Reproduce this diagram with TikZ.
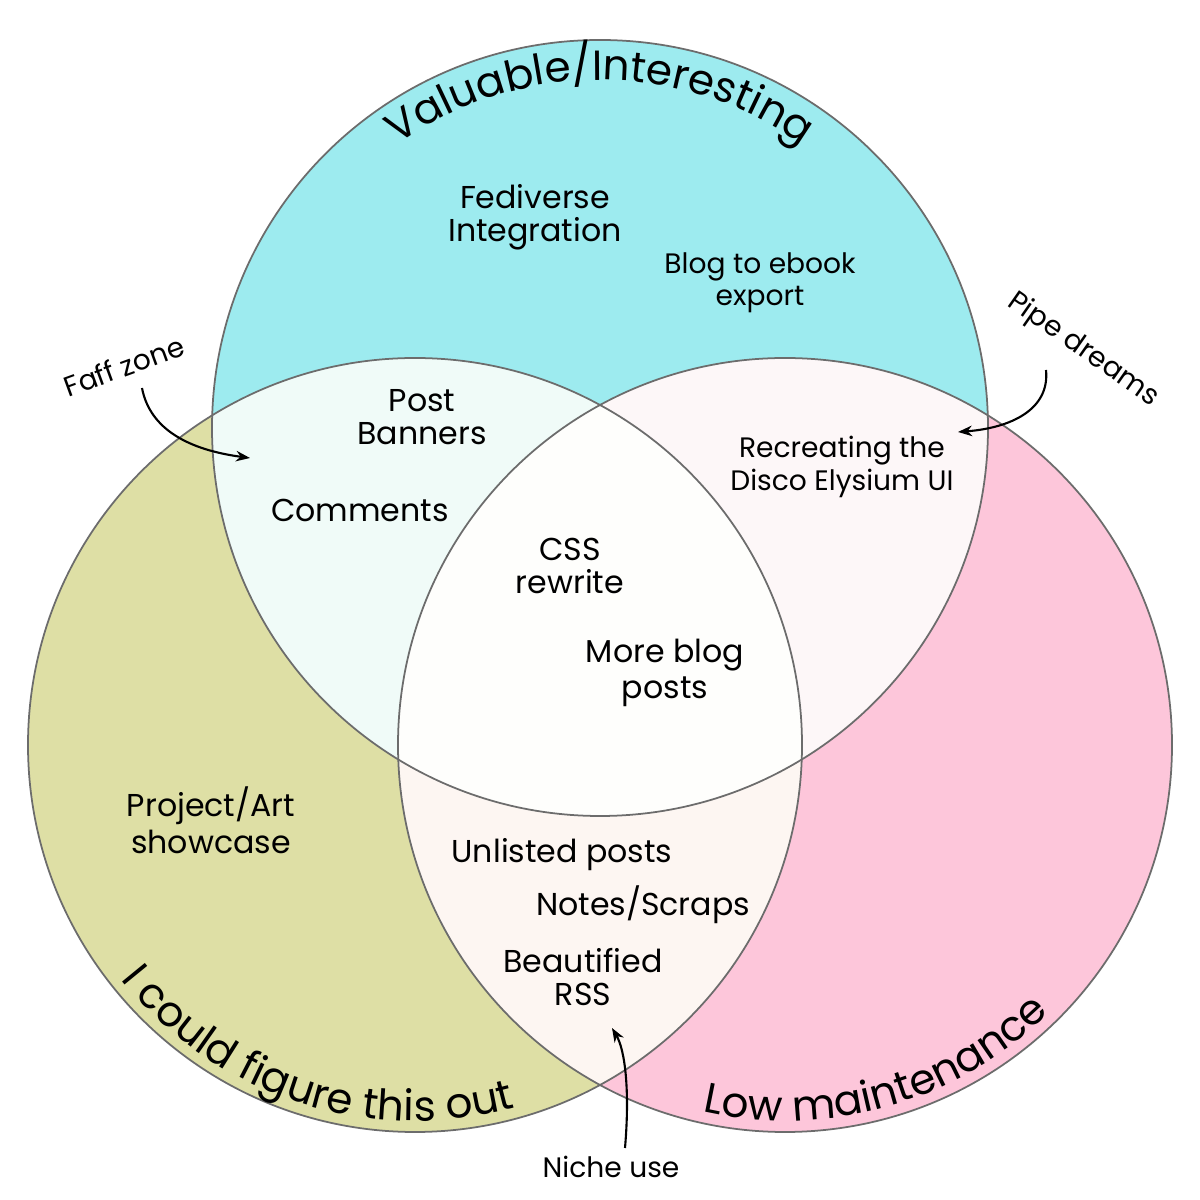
\documentclass[tikz,border=0pt]{standalone}
\usepackage{fontspec}
\setmainfont{Poppins}
\usetikzlibrary{decorations.text,arrows.meta,calc}
\definecolor{cT}{HTML}{9DEBEF}
\definecolor{cL}{HTML}{DEDFA5}
\definecolor{cR}{HTML}{FDC6DA}
\definecolor{cTL}{HTML}{F0FBF8}
\definecolor{cTR}{HTML}{FDF7F8}
\definecolor{cLR}{HTML}{FDF6F2}
\definecolor{cC}{HTML}{FEFEFC}
\begin{document}
\begin{tikzpicture}[x=0.02cm,y=0.02cm,
  lab/.style={align=center,font=\fontsize{18}{17}\selectfont,inner sep=0pt},
  sm/.style={align=center,font=\fontsize{16}{14}\selectfont,inner sep=0pt},
  arr/.style={-{Stealth[length=8pt,width=6pt]},line width=1.2pt},
  edge/.style={draw=gray!85!black,line width=1pt}]
\useasboundingbox (0,0) rectangle (1200,1200);
\fill[white] (0,0) rectangle (1200,1200);
\coordinate (T) at (600,772);
\coordinate (L) at (415,455);
\coordinate (R) at (785,455);
\def\rT{388}\def\rL{387}
\fill[cT] (T) circle (\rT);
\fill[cL] (L) circle (\rL);
\fill[cR] (R) circle (\rL);
\begin{scope}\clip (T) circle (\rT); \fill[cTL] (L) circle (\rL);\end{scope}
\begin{scope}\clip (T) circle (\rT); \fill[cTR] (R) circle (\rL);\end{scope}
\begin{scope}\clip (L) circle (\rL); \fill[cLR] (R) circle (\rL);\end{scope}
\begin{scope}\clip (T) circle (\rT); \clip (L) circle (\rL); \fill[cC] (R) circle (\rL);\end{scope}
\draw[edge] (T) circle (\rT);
\draw[edge] (L) circle (\rL);
\draw[edge] (R) circle (\rL);
% curved titles
\path[decorate,decoration={text along path,text align=center,
  text={|\fontsize{24}{24}\selectfont|Valuable/Interesting}}]
  ($(T)+(132:348)$) arc[start angle=132,end angle=48,radius=348];
\path[decorate,decoration={text along path,text align=center,
  text={|\fontsize{24}{24}\selectfont|I could figure this out}}]
  ($(L)+(212:376)$) arc[start angle=212,end angle=292,radius=376];
\path[decorate,decoration={text along path,text align=center,
  text={|\fontsize{24}{24}\selectfont|Low maintenance}}]
  ($(R)+(252:376)$) arc[start angle=252,end angle=320,radius=376];
% labels
\node[lab] (fed) at (535,983) {Fediverse\\[2pt]Integration};
\node[sm] (blog) at (760,917) {Blog to ebook\\[2pt]export};
\node[lab] (post) at (422,783) {Post\\[2pt]Banners};
\node[lab] (comm) at (360,690) {Comments};
\node[lab] (css) at (570,634) {CSS\\[2pt]rewrite};
\node[lab] (more) at (665,527) {More blog\\[2pt]posts};
\node[sm] (disco) at (842,733) {Recreating the\\[1pt]Disco Elysium UI};
\node[lab] (proj) at (211,380) {Project/Art\\[2pt]showcase};
\node[lab] (unl) at (562,345) {Unlisted posts};
\node[lab] (notes) at (643,295) {Notes/Scraps};
\node[lab] (beau) at (583,223) {Beautified\\[2pt]RSS};
\node[sm] (niche) at (611,33) {Niche use};
\node[sm,rotate=20] (faff) at (124,834) {Faff zone};
\node[sm,rotate=-35] (pipe) at (1083,850) {Pipe dreams};
\coordinate (faffE) at (250,742);
\coordinate (pipeE) at (958,768);
\coordinate (nicheE) at (612,172);
\coordinate (fs) at (142,812);
\coordinate (ps) at (1046,830);
\coordinate (ns) at (625,52);
\draw[arr] (fs) .. controls (150,770) and (190,750) .. (faffE);
\draw[arr] (ps) .. controls (1050,790) and (1010,772) .. (pipeE);
\draw[arr] (ns) .. controls (630,110) and (625,150) .. (nicheE);
\end{tikzpicture}
\end{document}
